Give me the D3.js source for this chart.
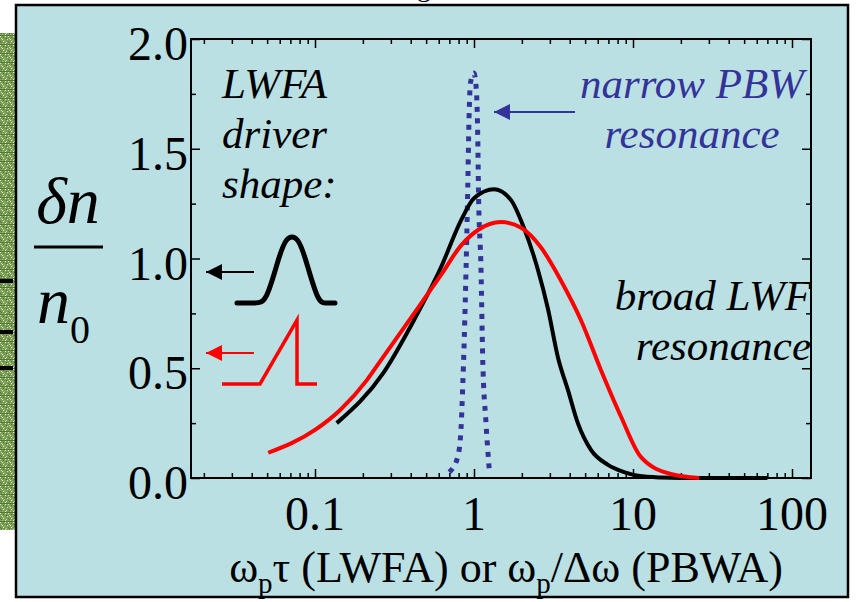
<!DOCTYPE html>
<html lang="en">
<head>
<meta charset="UTF-8">
<title>Resonance</title>
<script src="https://cdn.jsdelivr.net/npm/d3@7"></script>
<style>
    body{margin: 0; background: #fff}
    svg text{font-family: "Liberation Serif", "Times New Roman", serif}
    .line{fill: none}
</style>
</head>
<body>
<svg></svg>
<script>
    // x tick labels
    var xTicks = [0.1, 1, 10, 100]
    var xTickLabels = ['0.1', '1', '10', '100']
    var yTicks = [0, 0.5, 1.0, 1.5, 2.0]

    // LWFA, gaussian driver (black)
    var gaussX = [0.137, 0.27, 0.42, 0.62, 0.83, 1.0, 1.34, 1.71, 2.06, 2.52, 2.92, 3.37, 3.9, 4.5, 5.44, 6.96, 8.8, 10.8, 15, 20, 70]
    var gaussY = [0.25, 0.48, 0.72, 0.96, 1.175, 1.275, 1.316, 1.266, 1.14, 0.95, 0.77, 0.55, 0.40, 0.25, 0.128, 0.06, 0.027, 0.01, 0.002, 0, 0]

    // LWFA, triangular driver (red)
    var triX = [0.0508, 0.1, 0.144, 0.212, 0.256, 0.42, 0.62, 0.83, 1.06, 1.48, 1.98, 2.64, 3.52, 4.7, 6.3, 8.4, 11.2, 17.3, 26]
    var triY = [0.115, 0.219, 0.31, 0.446, 0.53, 0.75, 0.925, 1.06, 1.13, 1.166, 1.14, 1.05, 0.90, 0.72, 0.49, 0.28, 0.096, 0.018, 0]

    // PBWA narrow resonance (blue dotted)
    var pbwX = [0.699, 0.79, 0.828, 0.849, 0.869, 0.891, 0.913, 0.93, 0.95, 1.0, 1.029, 1.055, 1.067, 1.107, 1.134, 1.19, 1.248]
    var pbwY = [0.027, 0.096, 0.219, 0.414, 0.64, 0.948, 1.31, 1.63, 1.80, 1.845, 1.79, 1.57, 1.31, 0.948, 0.55, 0.25, 0.036]

    var W = 856, H = 602
    var plot = {left: 191, right: 811, top: 39, bottom: 478}
    var blue = '#333399'
    var serif = '"Liberation Serif", "Times New Roman", serif'

    var svg = d3.select('svg').attr('width', W).attr('height', H)
        .attr('font-family', serif)
    var defs = svg.append('defs')

    // texture for the green strip on the left
    var pat = defs.append('pattern').attr('id', 'grass')
        .attr('width', 8).attr('height', 9).attr('patternUnits', 'userSpaceOnUse')
    pat.append('rect').attr('width', 8).attr('height', 9).attr('fill', '#7b9d55')
    var specks = [[0,0,'#d9e6c4'],[3,1,'#4a7430'],[5,0,'#e8f0d8'],[1,2,'#c7d9a8'],[6,2,'#3e6826'],
        [2,3,'#e3edd2'],[4,4,'#9bbb78'],[7,3,'#d0e0b4'],[0,5,'#557f35'],[3,5,'#e6eed6'],
        [6,6,'#c2d6a0'],[1,6,'#4a7430'],[5,7,'#dbe8c8'],[2,7,'#a9c487']]
    specks.forEach(function(s) {
        pat.append('rect').attr('x', s[0]).attr('y', s[1]).attr('width', 1).attr('height', 1).attr('fill', s[2])
    })
    pat.append('rect').attr('y', 8).attr('width', 8).attr('height', 1).attr('fill', '#4e7a32')

    // arrow heads, tip sits at the end of the line
    var arrowHead = function(id, color) {
        defs.append('marker').attr('id', id)
            .attr('viewBox', '0 0 16 16').attr('refX', 16).attr('refY', 8)
            .attr('markerWidth', 16).attr('markerHeight', 16)
            .attr('markerUnits', 'userSpaceOnUse').attr('orient', 'auto')
            .append('path').attr('d', 'M0,0 L16,8 L0,16 Z').attr('fill', color)
    }
    arrowHead('ah-black', '#000')
    arrowHead('ah-red', '#f00')
    arrowHead('ah-blue', blue)

    svg.append('rect').attr('x', 0).attr('y', 33).attr('width', 16).attr('height', 497).attr('fill', 'url(#grass)')
    ;[281, 332, 368].forEach(function(y) {
        svg.append('rect').attr('x', 0).attr('y', y - 2).attr('width', 13).attr('height', 4).attr('fill', '#000')
    })

    // clipped title above the panel
    svg.append('text').attr('x', 417).attr('y', -4).attr('font-size', 28).text('g')

    svg.append('rect').attr('x', 16).attr('y', 5).attr('width', 832).attr('height', 592)
        .attr('fill', '#bbe0e3').attr('stroke', '#000').attr('stroke-width', 2.5)

    // scales
    var x = d3.scaleLog().domain([Math.pow(10, -1 - 124 / 159), Math.pow(10, 2 + 19 / 159)]).range([plot.left, plot.right])
    var y = d3.scaleLinear().domain([0, 2]).range([plot.bottom, plot.top])

    var minorX = []
    ;[0.01, 0.1, 1, 10].forEach(function(d) {
        for (var k = 2; k <= 9; k++) minorX.push(d * k)
    })
    minorX = minorX.filter(function(v) { return v >= x.domain()[0] && v <= x.domain()[1] })
    var minorY = [0.25, 0.75, 1.25, 1.75]

    var g = svg.append('g')
    function ticks(axisFn, scale, vals, size, transform) {
        g.append('g').attr('transform', transform)
            .call(axisFn(scale).tickValues(vals).tickSize(size).tickFormat(''))
            .call(function(s) {
                s.select('.domain').remove()
                s.selectAll('line').attr('stroke', '#000').attr('stroke-width', 1.5)
            })
    }
    // inward ticks on all four sides
    ticks(d3.axisTop, x, xTicks, 9, 'translate(0,' + plot.bottom + ')')
    ticks(d3.axisTop, x, minorX, 5, 'translate(0,' + plot.bottom + ')')
    ticks(d3.axisBottom, x, xTicks, 9, 'translate(0,' + plot.top + ')')
    ticks(d3.axisBottom, x, minorX, 5, 'translate(0,' + plot.top + ')')
    ticks(d3.axisRight, y, yTicks, 9, 'translate(' + plot.left + ',0)')
    ticks(d3.axisRight, y, minorY, 5, 'translate(' + plot.left + ',0)')
    ticks(d3.axisLeft, y, yTicks, 9, 'translate(' + plot.right + ',0)')
    ticks(d3.axisLeft, y, minorY, 5, 'translate(' + plot.right + ',0)')

    g.append('rect').attr('x', plot.left).attr('y', plot.top)
        .attr('width', plot.right - plot.left).attr('height', plot.bottom - plot.top)
        .attr('fill', 'none').attr('stroke', '#000').attr('stroke-width', 2)

    // tick labels
    g.selectAll('.xl').data(xTicks).enter().append('text')
        .attr('x', function(d) { return x(d) }).attr('y', 530)
        .attr('text-anchor', 'middle').attr('font-size', 48).attr('font-family', serif)
        .text(function(d, i) { return xTickLabels[i] })
    g.selectAll('.yl').data(yTicks).enter().append('text')
        .attr('x', 188).attr('y', function(d) { return y(d) + 21 })
        .attr('text-anchor', 'end').attr('font-size', 48).attr('font-family', serif)
        .text(function(d) { return d.toFixed(1) })

    // axis titles
    var xt = svg.append('text').attr('x', 506).attr('y', 582).attr('text-anchor', 'middle')
        .attr('font-size', 44).attr('font-family', serif)
    xt.append('tspan').text('ω')
    xt.append('tspan').attr('font-size', 29).attr('dy', 11).text('p')
    xt.append('tspan').attr('dy', -11).text('τ (LWFA) or ω')
    xt.append('tspan').attr('font-size', 29).attr('dy', 11).text('p')
    xt.append('tspan').attr('dy', -11).text('/Δω (PBWA)')

    svg.append('text').attr('x', 68).attr('y', 223).attr('text-anchor', 'middle').attr('font-family', serif)
        .attr('font-size', 66).attr('font-style', 'italic').text('δn')
    svg.append('line').attr('x1', 34).attr('x2', 103).attr('y1', 247).attr('y2', 247)
        .attr('stroke', '#000').attr('stroke-width', 3)
    var ny = svg.append('text').attr('x', 37).attr('y', 323).attr('font-size', 66).attr('font-family', serif)
    ny.append('tspan').attr('font-style', 'italic').text('n')
    ny.append('tspan').attr('font-size', 40).attr('dy', 20).text('0')

    // curves
    var line = d3.line().x(function(d) { return x(d[0]) }).y(function(d) { return y(d[1]) }).curve(d3.curveMonotoneX)
    var zip = function(a, b) { return a.map(function(v, i) { return [v, b[i]] }) }

    g.append('path').datum(zip(pbwX, pbwY)).attr('class', 'line').attr('d', line)
        .attr('stroke', blue).attr('stroke-width', 5).attr('stroke-dasharray', '5 6.5')
    g.append('path').datum(zip(gaussX, gaussY)).attr('class', 'line').attr('d', line)
        .attr('stroke', '#000').attr('stroke-width', 4)
    g.append('path').datum(zip(triX, triY)).attr('class', 'line').attr('d', line)
        .attr('stroke', '#f00').attr('stroke-width', 4)

    // annotations
    var note = function(lines, xp, anchor, color, y0) {
        lines.forEach(function(t, i) {
            svg.append('text').attr('x', xp).attr('y', y0 + i * 50).attr('text-anchor', anchor)
                .attr('font-family', serif)
                .attr('font-size', 43).attr('font-style', 'italic').attr('fill', color).text(t)
        })
    }
    note(['LWFA', 'driver', 'shape:'], 222, 'start', '#000', 98)
    note(['narrow PBW', 'resonance'], 692, 'middle', blue, 98)
    note(['broad LWF', 'resonance'], 811, 'end', '#000', 310)

    // arrows
    var arrow = function(x1, x2, yy, color, id) {
        svg.append('line').attr('x1', x1).attr('x2', x2).attr('y1', yy).attr('y2', yy)
            .attr('stroke', color).attr('stroke-width', 2).attr('marker-end', 'url(#' + id + ')')
    }
    arrow(575, 494, 112, blue, 'ah-blue')
    arrow(254, 206, 272, '#000', 'ah-black')
    arrow(254, 206, 353, '#f00', 'ah-red')

    // driver shape icons
    var icon = d3.line().curve(d3.curveBasis)
    svg.append('path').attr('class', 'line').attr('stroke', '#000').attr('stroke-width', 5).attr('stroke-linecap', 'round')
        .attr('d', icon([[237, 303], [256, 303], [266, 303], [278, 260], [286, 236], [298, 236], [306, 260], [318, 303], [326, 303], [335, 303]]))
    svg.append('path').attr('class', 'line').attr('stroke', '#f00').attr('stroke-width', 3.5)
        .attr('d', 'M222,384 L260,384 L297,320 L297,384 L317,384')
</script>
</body>
</html>
